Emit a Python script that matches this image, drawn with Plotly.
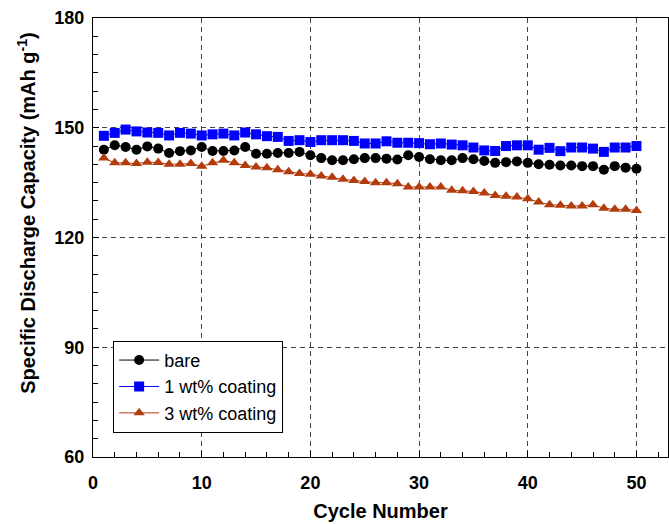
import plotly.graph_objects as go

cycles = list(range(1, 51))

bare = [144.0, 145.2, 144.75, 144.0, 144.9, 144.3, 143.1, 143.6, 143.8, 144.75,
        143.65, 143.65, 143.8, 144.75, 142.9, 142.9, 143.1, 143.1, 143.4, 142.5,
        141.7, 141.1, 141.1, 141.4, 141.7, 141.7, 141.55, 141.3, 142.5, 142.0,
        141.4, 141.1, 141.1, 141.7, 141.4, 140.9, 140.4, 140.6, 140.8, 140.4,
        140.0, 139.9, 139.7, 139.7, 139.5, 139.5, 138.5, 139.5, 139.1, 138.8]

coat1 = [147.8, 148.6, 149.5, 149.0, 148.7, 148.6, 147.9, 148.6, 148.4, 147.9,
         148.2, 148.4, 147.9, 148.7, 148.2, 147.7, 147.5, 146.4, 146.6, 146.1,
         146.6, 146.6, 146.6, 146.4, 145.7, 145.7, 146.3, 145.9, 145.9, 145.8,
         145.5, 145.7, 145.4, 145.2, 144.6, 143.8, 143.65, 145.0, 145.2, 145.2,
         144.0, 144.5, 143.6, 144.6, 144.6, 144.3, 143.4, 144.6, 144.6, 145.0]

coat3 = [141.7, 140.4, 140.4, 140.2, 140.6, 140.5, 140.0, 140.0, 140.2, 139.5,
         140.4, 141.1, 140.4, 139.7, 139.3, 139.1, 138.5, 138.0, 137.5, 137.3,
         136.8, 136.5, 135.9, 135.6, 135.3, 135.0, 135.0, 134.7, 133.8, 133.8,
         133.8, 133.8, 132.9, 132.8, 132.6, 132.15, 131.5, 131.3, 131.05, 130.6,
         129.7, 128.95, 128.8, 128.6, 128.6, 128.95, 128.0, 127.7, 127.7, 127.4]

names = ["bare", "1 wt% coating", "3 wt% coating"]
colors = ["#000000", "#0000ff", "#b23c0c"]
symbols = ["circle", "square", "triangle-up"]
series = [bare, coat1, coat3]

FONT = "Liberation Sans, Arial, sans-serif"

fig = go.Figure()
for name, vals, col, sym in zip(names, series, colors, symbols):
    fig.add_trace(go.Scatter(
        x=cycles, y=vals, name=name, mode="lines+markers",
        line=dict(color=col, width=1),
        marker=dict(symbol=sym, size=10, color=col, line=dict(width=0)),
    ))

fig.update_layout(
    width=669, height=524,
    margin=dict(l=93, r=1, t=18, b=67),
    paper_bgcolor="white", plot_bgcolor="white",
    showlegend=True,
    legend=dict(
        x=0.035, y=0.055, xanchor="left", yanchor="bottom",
        bordercolor="#000000", borderwidth=1, bgcolor="white",
        font=dict(family=FONT, size=18, color="#000000"),
        tracegroupgap=0, itemwidth=40,
    ),
    xaxis=dict(
        range=[0, 52.9], tickmode="linear", tick0=0, dtick=10,
        ticks="inside", ticklen=6, tickcolor="#000000",
        showline=True, linecolor="#000000", linewidth=1, mirror=True,
        showgrid=True, gridcolor="#444444", gridwidth=1, griddash="5px,4px",
        zeroline=False, ticklabelstandoff=9,
        tickfont=dict(family=FONT, size=18, color="#000000", weight="bold"),
        minor=dict(dtick=2, ticks="inside", ticklen=5, tickcolor="#000000", showgrid=False),
        title=dict(text="Cycle Number", standoff=12,
                   font=dict(family=FONT, size=20, color="#000000", weight="bold")),
    ),
    yaxis=dict(
        range=[60, 180], tickmode="linear", tick0=60, dtick=30,
        ticks="inside", ticklen=6, tickcolor="#000000",
        showline=True, linecolor="#000000", linewidth=1, mirror=True,
        showgrid=True, gridcolor="#444444", gridwidth=1, griddash="5px,4px",
        zeroline=False, ticklabelstandoff=4,
        tickfont=dict(family=FONT, size=18, color="#000000", weight="bold"),
        minor=dict(dtick=5, ticks="inside", ticklen=5, tickcolor="#000000", showgrid=False),
    ),
    annotations=[dict(
        text="Specific Discharge Capacity (mAh g<sup>-1</sup>)",
        xref="paper", yref="paper", x=-0.115, y=0.556,
        xanchor="center", yanchor="middle", textangle=-90, showarrow=False,
        font=dict(family=FONT, size=20, color="#000000", weight="bold"),
    )],
)

fig.write_html("out.html")
